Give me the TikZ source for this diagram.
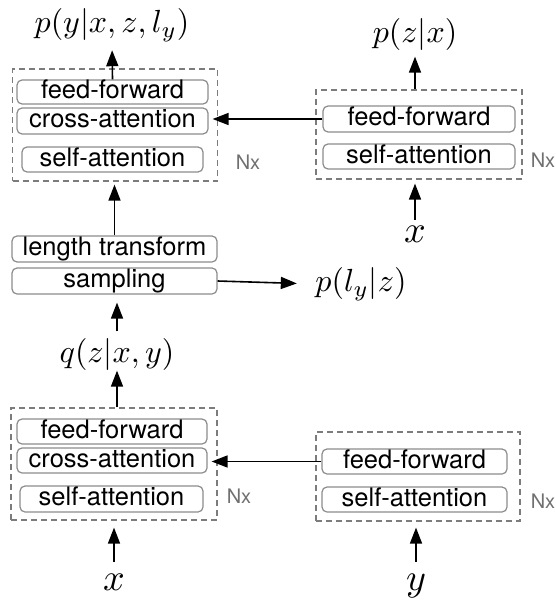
\documentclass[tikz,border=0pt]{standalone}
\usepackage{fontspec}
\setsansfont{TeX Gyre Heros}
\usetikzlibrary{arrows.meta}
\definecolor{boxgray}{HTML}{8C8C8C}
\definecolor{dashgray}{HTML}{7C7C7C}
\definecolor{nxgray}{HTML}{707070}
\tikzset{
  layer/.style={draw=boxgray, line width=1.2pt, rounded corners=5pt, inner sep=0pt,
    font=\sffamily\fontsize{25.5}{28}\selectfont, text height=18pt, text depth=5pt},
  dbox/.style={draw=dashgray, line width=1.2pt, dash pattern=on 6pt off 4pt, inner sep=0pt},
  nxlab/.style={text=nxgray, font=\sffamily\fontsize{20}{22}\selectfont, inner sep=0pt},
  mlab/.style={scale=3.2, inner sep=0pt},
  inlab/.style={scale=3.8, inner sep=0pt, anchor=base},
  arr/.style={-{Triangle[length=16pt,width=12pt]}, line width=1.6pt},
}
\begin{document}
\begin{tikzpicture}[x=1pt, y=-1pt]
\useasboundingbox (0,0) rectangle (556,602);

% top-left decoder block
\node[dbox, minimum width=205pt, minimum height=112pt] (tlbox) at (115.3,125) {};
\node[layer, minimum width=191pt, minimum height=24pt] (tlff) at (112.5,92) {feed-forward};
\node[layer, minimum width=191pt, minimum height=26pt] (tlca) at (112.5,121) {cross-attention};
\node[layer, minimum width=181pt, minimum height=25pt] (tlsa) at (112.5,159.5) {self-attention};
\node[nxlab] (tlnx) at (248,162) {Nx};
\node[mlab] (ptl) at (112,25) {$p(y|x,z,l_y)$};

% top-right prior block
\node[dbox, minimum width=206pt, minimum height=89pt] (trbox) at (419,134.5) {};
\node[layer, minimum width=192pt, minimum height=26pt] (trff) at (419,119) {feed-forward};
\node[layer, minimum width=192pt, minimum height=25pt] (trsa) at (419,156.5) {self-attention};
\node[nxlab] (trnx) at (543,160) {Nx};
\node[mlab] (pzx) at (415,35) {$p(z|x)$};
\node[inlab] (xtr) at (415,242) {$x$};

% middle
\node[layer, minimum width=205pt, minimum height=26pt] (lt) at (114.5,249) {length transform};
\node[layer, minimum width=205pt, minimum height=26pt] (samp) at (114.5,281) {sampling};
\node[mlab] (plz) at (361,284) {$p(l_y|z)$};
\node[mlab] (qz) at (117,354) {$q(z|x,y)$};

% bottom-left posterior block
\node[dbox, minimum width=206pt, minimum height=112pt] (blbox) at (114,464) {};
\node[layer, minimum width=190pt, minimum height=25pt] (blff) at (112,431.5) {feed-forward};
\node[layer, minimum width=190pt, minimum height=25pt] (blca) at (112,460.5) {cross-attention};
\node[layer, minimum width=183pt, minimum height=26pt] (blsa) at (111.5,499) {self-attention};
\node[nxlab] (blnx) at (239,496) {Nx};
\node[inlab] (xbl) at (114,590) {$x$};

% bottom-right block
\node[dbox, minimum width=204pt, minimum height=89pt] (brbox) at (418,476.5) {};
\node[layer, minimum width=185pt, minimum height=25pt] (brff) at (414.5,461.5) {feed-forward};
\node[layer, minimum width=185pt, minimum height=25pt] (brsa) at (414.5,499.5) {self-attention};
\node[nxlab] (brnx) at (543,501) {Nx};
\node[inlab] (ybr) at (416,590) {$y$};

% connectors
\draw[arr, shorten >=8pt] (tlff.north) -- (ptl.south);
\draw[arr, shorten >=5pt] (trbox.north -| pzx.south) -- (pzx.south);
\draw[arr, shorten <=5pt, shorten >=4pt] (xtr.north) -- (xtr.north |- trbox.south);
\draw[arr, shorten >=4pt] (trff.west) -- (trff.west -| tlca.east);
\draw[arr, shorten >=3pt] (lt.north) -- (lt.north |- tlbox.south);
\draw[arr, shorten >=18pt] (samp.east) -- (plz.west);
\draw[arr, shorten <=6pt, shorten >=8pt] (qz.north) -- (qz.north |- samp.south);
\draw[arr] (blbox.north -| qz.south) -- (qz.south);
\draw[arr, shorten >=4pt] (brff.west) -- (brff.west -| blca.east);
\draw[arr, shorten <=11pt, shorten >=7pt] (xbl.north) -- (xbl.north |- blbox.south);
\draw[arr, shorten <=11pt, shorten >=6pt] (ybr.north) -- (ybr.north |- brbox.south);
\end{tikzpicture}
\end{document}
